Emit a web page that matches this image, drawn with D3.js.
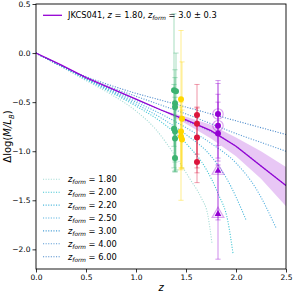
<!DOCTYPE html>
<html>
<head>
<meta charset="utf-8">
<script src="https://cdn.jsdelivr.net/npm/d3@7"></script>
<style>
  body { margin: 0; background: #fff; }
  text { font-family: "DejaVu Sans", sans-serif; }
</style>
</head>
<body>
<div id="chart"></div>
<script>
// model tracks, delta log(M/L_B) vs z, one per formation redshift
var zformLabels = ["1.80", "2.00", "2.20", "2.50", "3.00", "4.00", "6.00"];
var zformColors = ["#a6dcd6", "#45c6d4", "#4fb9dc", "#58b2e0", "#4a9fd6", "#5b9bd5", "#4f8ccc"];

var m180z = [0, 0.25, 0.5, 0.75, 1.0, 1.2, 1.4, 1.55, 1.65, 1.72, 1.76];
var m180v = [0, -0.14, -0.28, -0.42, -0.59, -0.78, -1.06, -1.30, -1.47, -1.66, -1.94];
var m200z = [0, 0.25, 0.5, 0.75, 1.0, 1.25, 1.5, 1.7, 1.82, 1.92, 1.97];
var m200v = [0, -0.13, -0.27, -0.40, -0.54, -0.70, -0.92, -1.18, -1.43, -1.72, -2.04];
var m220z = [0, 0.25, 0.5, 0.75, 1.0, 1.25, 1.5, 1.75, 1.95, 2.05, 2.10];
var m220v = [0, -0.13, -0.26, -0.39, -0.52, -0.66, -0.83, -1.05, -1.36, -1.58, -1.70];
var m250z = [0, 0.25, 0.5, 0.75, 1.0, 1.25, 1.5, 1.75, 2.0, 2.2, 2.4];
var m250v = [0, -0.13, -0.26, -0.38, -0.50, -0.62, -0.76, -0.92, -1.12, -1.38, -1.78];
var zGrid = [0, 0.25, 0.5, 0.75, 1.0, 1.25, 1.5, 1.75, 2.0, 2.25, 2.5];
var m300v = [0, -0.13, -0.26, -0.37, -0.48, -0.58, -0.69, -0.80, -0.95, -1.15, -1.35];
var m400v = [0, -0.13, -0.25, -0.35, -0.44, -0.53, -0.62, -0.72, -0.82, -0.91, -1.00];
var m600v = [0, -0.13, -0.24, -0.33, -0.41, -0.48, -0.55, -0.62, -0.69, -0.76, -0.83];

// JKCS041 best fit and its band
var fitV = [0, -0.12, -0.25, -0.36, -0.47, -0.58, -0.68, -0.79, -0.95, -1.15, -1.35];
var bandZ = [1.25, 1.5, 1.75, 2.0, 2.25, 2.5];
var bandTop = [-0.58, -0.65, -0.73, -0.86, -1.00, -1.16];
var bandBot = [-0.58, -0.72, -0.87, -1.05, -1.28, -1.56];

// measured points
var greenZ = [1.38, 1.40, 1.39, 1.39, 1.38, 1.39, 1.39, 1.39];
var greenV = [-0.38, -0.39, -0.51, -0.55, -0.77, -0.80, -0.87, -1.07];
var greenHi = [0.40, 0.00, -0.17, -0.25, -0.32, -0.45, -0.57, -0.77];
var greenLo = [-0.95, -1.19, -1.11, -1.20, -1.17, -1.21, -1.09, -1.21];

var yellowZ = [1.45, 1.46, 1.45, 1.45, 1.46];
var yellowV = [-0.47, -0.67, -0.80, -0.85, -0.88];
var yellowHi = [0.23, -0.09, -0.50, -0.55, -0.58];
var yellowLo = [-1.17, -1.17, -1.19, -1.50, -1.18];

var redZ = [1.61, 1.61, 1.61, 1.61];
var redV = [-0.63, -0.72, -0.86, -1.11];
var redHi = [-0.32, -0.55, -0.56, -0.86];
var redLo = [-1.03, -1.17, -1.22, -1.32];

var purpleZ = [1.82, 1.82, 1.82, 1.82, 1.82];
var purpleV = [-0.62, -0.74, -0.82, -1.20, -1.64];
var purpleHi = [-0.28, -0.31, -0.42, -0.50, -1.14];
var purpleLo = [-0.94, -1.07, -1.10, -1.70, -2.10];
var purpleMarker = ["ring", "ring", "dot", "tri", "tri"];

var xTicks = [0, 0.5, 1.0, 1.5, 2.0, 2.5];
var yTicks = [0.5, 0, -0.5, -1.0, -1.5, -2.0];

var margin = {top: 4, right: 7, bottom: 24, left: 36},
    width = 293 - margin.left - margin.right,
    height = 293 - margin.top - margin.bottom;

var svg = d3.select("#chart")
  .append("svg")
    .attr("width", 293)
    .attr("height", 293)
  .append("g")
    .attr("transform", "translate(" + margin.left + "," + margin.top + ")");

var x = d3.scaleLinear().domain([0, 2.5]).range([0, width]);
var y = d3.scaleLinear().domain([-2.2, 0.5]).range([height, 0]);

svg.append("clipPath").attr("id", "clip")
  .append("rect").attr("width", width).attr("height", height);

var plot = svg.append("g").attr("clip-path", "url(#clip)");

var models = [
  {z: m180z, v: m180v}, {z: m200z, v: m200v}, {z: m220z, v: m220v},
  {z: m250z, v: m250v}, {z: zGrid, v: m300v}, {z: zGrid, v: m400v},
  {z: zGrid, v: m600v}
];

var line = d3.line()
  .x(function(d) { return x(d[0]); })
  .y(function(d) { return y(d[1]); })
  .curve(d3.curveMonotoneX);

models.forEach(function(m, i) {
  plot.append("path")
    .datum(d3.zip(m.z, m.v))
    .attr("d", line)
    .attr("fill", "none")
    .attr("stroke", zformColors[i])
    .attr("stroke-width", 1.1)
    .attr("stroke-dasharray", "1.1,1.5");
});

// band
var area = d3.area()
  .x(function(d) { return x(d[0]); })
  .y0(function(d) { return y(d[1]); })
  .y1(function(d) { return y(d[2]); });

plot.append("path")
  .datum(d3.zip(bandZ, bandTop, bandBot))
  .attr("d", area)
  .attr("fill", "#9400d3")
  .attr("fill-opacity", 0.22);

plot.append("path")
  .datum(d3.zip(zGrid, fitV))
  .attr("d", d3.line().x(function(d) { return x(d[0]); }).y(function(d) { return y(d[1]); }))
  .attr("fill", "none")
  .attr("stroke", "#9400d3")
  .attr("stroke-width", 1.3);

// error bars + points
function drawGroup(zs, vs, hi, lo, color, markers) {
  var g = plot.append("g");
  zs.forEach(function(z, i) {
    var cx = x(z);
    g.append("line")
      .attr("x1", cx).attr("x2", cx)
      .attr("y1", y(hi[i])).attr("y2", y(lo[i]))
      .attr("stroke", color).attr("stroke-opacity", 0.45).attr("stroke-width", 1);
    [hi[i], lo[i]].forEach(function(e) {
      g.append("line")
        .attr("x1", cx - 2.6).attr("x2", cx + 2.6)
        .attr("y1", y(e)).attr("y2", y(e))
        .attr("stroke", color).attr("stroke-opacity", 0.45).attr("stroke-width", 0.9);
    });
  });
  zs.forEach(function(z, i) {
    var cx = x(z), cy = y(vs[i]);
    var mk = markers ? markers[i] : "dot";
    if (mk === "tri") {
      g.append("path")
        .attr("d", d3.symbol(d3.symbolTriangle, 60)())
        .attr("transform", "translate(" + cx + "," + cy + ")")
        .attr("fill", "none").attr("stroke", color).attr("stroke-opacity", 0.35).attr("stroke-width", 1.2);
      g.append("path")
        .attr("d", d3.symbol(d3.symbolTriangle, 20)())
        .attr("transform", "translate(" + cx + "," + cy + ")")
        .attr("fill", color);
    } else {
      if (mk === "ring") {
        g.append("circle").attr("cx", cx).attr("cy", cy).attr("r", 5.2)
          .attr("fill", "none").attr("stroke", color).attr("stroke-opacity", 0.35).attr("stroke-width", 1.2);
      }
      g.append("circle").attr("cx", cx).attr("cy", cy).attr("r", 3).attr("fill", color);
    }
  });
}

drawGroup(greenZ, greenV, greenHi, greenLo, "#3cb371");
drawGroup(yellowZ, yellowV, yellowHi, yellowLo, "#ffd700");
drawGroup(redZ, redV, redHi, redLo, "#dc143c");
drawGroup(purpleZ, purpleV, purpleHi, purpleLo, "#9400d3", purpleMarker);

// axes
var xAxis = svg.append("g")
  .attr("transform", "translate(0," + height + ")")
  .call(d3.axisBottom(x).tickValues(xTicks).tickFormat(d3.format(".1f")).tickSize(3.5).tickPadding(2));
var yAxis = svg.append("g")
  .call(d3.axisLeft(y).tickValues(yTicks).tickFormat(d3.format(".1f")).tickSize(3.5).tickPadding(2));
[xAxis, yAxis].forEach(function(a) {
  a.select(".domain").remove();
  a.selectAll("text").attr("font-size", 7.5).attr("fill", "#000").style("font-family", "DejaVu Sans");
  a.selectAll("line").attr("stroke", "#000").attr("stroke-width", 0.8);
});

svg.append("rect")
  .attr("width", width).attr("height", height)
  .attr("fill", "none").attr("stroke", "#000").attr("stroke-width", 0.9);

// axis labels
svg.append("text")
  .attr("x", width / 2).attr("y", height + 22)
  .attr("text-anchor", "middle").attr("font-size", 10).attr("font-style", "italic")
  .text("z");

var yl = svg.append("text")
  .attr("transform", "translate(-25," + (height / 2) + ") rotate(-90)")
  .attr("text-anchor", "middle").attr("font-size", 10);
yl.append("tspan").text("Δlog(");
yl.append("tspan").attr("font-style", "italic").text("M/L");
yl.append("tspan").attr("font-style", "italic").attr("font-size", 7).attr("dy", 2.5).text("B");
yl.append("tspan").attr("dy", -2.5).text(")");

// legends
function zformText(t, tail) {
  t.append("tspan").attr("font-style", "italic").text("z");
  t.append("tspan").attr("font-style", "italic").attr("font-size", 5.8).attr("dy", 2).text("form");
  t.append("tspan").attr("dy", -2).text(tail);
}

var legTop = svg.append("g");
legTop.append("line").attr("x1", 7).attr("x2", 26).attr("y1", 11.3).attr("y2", 11.3)
  .attr("stroke", "#9400d3").attr("stroke-width", 1.3);
var tt = legTop.append("text").attr("x", 32).attr("y", 14.3).attr("font-size", 8.3);
tt.append("tspan").text("JKCS041, ");
tt.append("tspan").attr("font-style", "italic").text("z");
tt.append("tspan").text(" = 1.80, ");
zformText(tt, " = 3.0 ± 0.3");

var leg = svg.append("g");
zformLabels.forEach(function(lab, i) {
  var ly = 179.3 + i * 12.9 - margin.top;
  leg.append("line").attr("x1", 7).attr("x2", 25).attr("y1", ly).attr("y2", ly)
    .attr("stroke", zformColors[i]).attr("stroke-width", 1.1).attr("stroke-dasharray", "1.1,1.5");
  var t = leg.append("text").attr("x", 32).attr("y", ly + 3).attr("font-size", 8.3);
  zformText(t, " = " + lab);
});
</script>
</body>
</html>
